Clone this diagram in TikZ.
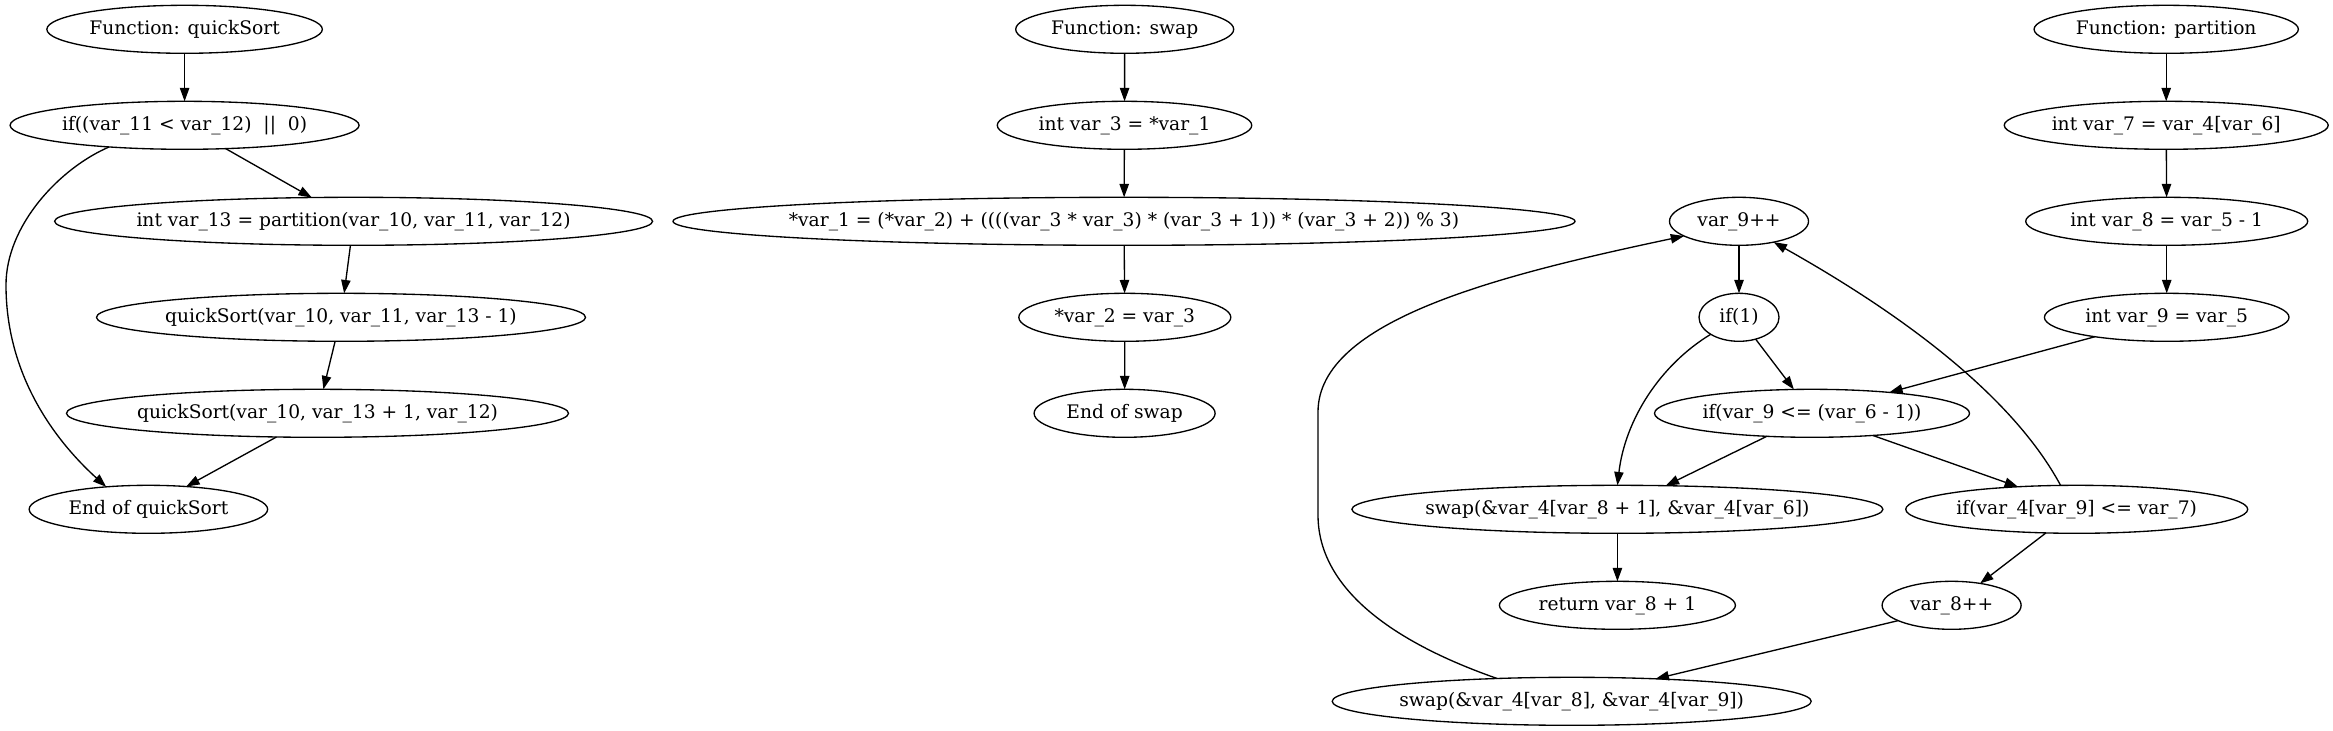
\documentclass[tikz,border=0pt]{standalone}
\usepackage{fontspec}
\setmainfont{DejaVu Serif}
\usetikzlibrary{arrows.meta,shapes.geometric}
\newcommand\gvt[1]{\makebox[0pt][c]{#1}}
\begin{document}
\begin{tikzpicture}[x=0.75pt,y=-0.75pt,
  gv/.style={draw, ellipse, inner sep=0pt, outer sep=0pt, minimum height=36pt, line width=1pt,
    font=\fontsize{14}{16}\selectfont},
  arr/.style={-{Triangle[length=10pt,width=7pt]}, line width=1pt}]
\fill[white] (0,0) rectangle (2333,731);
\useasboundingbox (0,0) rectangle (2333,731);
% quickSort
\node[gv, minimum width=275.5*0.75pt] (fqs) at (184.6,29.3) {\gvt{Function: quickSort}};
\node[gv, minimum width=349*0.75pt] (if1) at (184.6,125.3) {\gvt{if((var\_11 < var\_12)\ \ ||\ \ 0)}};
\node[gv, minimum width=598*0.75pt] (n13) at (353.6,221.3) {\gvt{int var\_13 = partition(var\_10, var\_11, var\_12)}};
\node[gv, minimum width=489*0.75pt] (qs1) at (341,317.3) {\gvt{quickSort(var\_10, var\_11, var\_13 - 1)}};
\node[gv, minimum width=502*0.75pt] (qs2) at (317.5,413.3) {\gvt{quickSort(var\_10, var\_13 + 1, var\_12)}};
\node[gv, minimum width=238.5*0.75pt] (endqs) at (148.4,509.3) {\gvt{End of quickSort}};
% swap
\node[gv, minimum width=218*0.75pt] (fsw) at (1124.7,29.3) {\gvt{Function: swap}};
\node[gv, minimum width=254.5*0.75pt] (v3) at (1124.5,125.3) {\gvt{int var\_3 = *var\_1}};
\node[gv, minimum width=902*0.75pt] (big) at (1124,221.3) {\gvt{*var\_1 = (*var\_2) + ((((var\_3 * var\_3) * (var\_3 + 1)) * (var\_3 + 2)) \% 3)}};
\node[gv, minimum width=212*0.75pt] (v2) at (1124.8,317.3) {\gvt{*var\_2 = var\_3}};
\node[gv, minimum width=181*0.75pt] (endsw) at (1124.6,413.3) {\gvt{End of swap}};
% partition
\node[gv, minimum width=264.3*0.75pt] (fpart) at (2166.2,29.3) {\gvt{Function: partition}};
\node[gv, minimum width=324*0.75pt] (v7) at (2166.2,125.3) {\gvt{int var\_7 = var\_4[var\_6]}};
\node[gv, minimum width=282*0.75pt] (v8) at (2166.7,221.3) {\gvt{int var\_8 = var\_5 - 1}};
\node[gv, minimum width=244.6*0.75pt] (v9) at (2166.7,317.3) {\gvt{int var\_9 = var\_5}};
\node[gv, minimum width=139*0.75pt] (v9pp) at (1739,221.3) {\gvt{var\_9++}};
\node[gv, minimum width=80*0.75pt] (if1n) at (1739,317.3) {\gvt{if(1)}};
\node[gv, minimum width=315*0.75pt] (ifle) at (1812,413.3) {\gvt{if(var\_9 <= (var\_6 - 1))}};
\node[gv, minimum width=531*0.75pt] (s81) at (1617.4,509.3) {\gvt{swap(\&var\_4[var\_8 + 1], \&var\_4[var\_6])}};
\node[gv, minimum width=342*0.75pt] (if4) at (2076.7,509.3) {\gvt{if(var\_4[var\_9] <= var\_7)}};
\node[gv, minimum width=236*0.75pt] (ret) at (1617.4,605.3) {\gvt{return var\_8 + 1}};
\node[gv, minimum width=139*0.75pt] (v8pp) at (1951.6,605.3) {\gvt{var\_8++}};
\node[gv, minimum width=479*0.75pt] (s89) at (1571.7,701.3) {\gvt{swap(\&var\_4[var\_8], \&var\_4[var\_9])}};
% quickSort edges
\draw[arr] (fqs) -- (if1);
\draw[arr] (if1) -- (n13);
\draw[arr] (n13) -- (qs1);
\draw[arr] (qs1) -- (qs2);
\draw[arr] (qs2.210) -- (endqs.31);
\draw[arr] (if1.196) .. controls (60,168) and (6,225) .. (6,285) .. controls (6,380) and (60,445) .. (endqs.152);
% swap edges
\draw[arr] (fsw) -- (v3);
\draw[arr] (v3) -- (big);
\draw[arr] (big) -- (v2);
\draw[arr] (v2) -- (endsw);
% partition edges
\draw[arr] (fpart) -- (v7);
\draw[arr] (v7) -- (v8);
\draw[arr] (v8) -- (v9);
\draw[arr] (v9) -- (ifle);
\draw[arr] (v9pp) -- (if1n);
\draw[arr] (if1n) -- (ifle);
\draw[arr] (if1n.211) .. controls (1660,365) and (1625,420) .. (s81.north);
\draw[arr] (ifle.207) -- (s81.26);
\draw[arr] (ifle.340) -- (if4.159);
\draw[arr] (s81) -- (ret);
\draw[arr] (if4.124) .. controls (2020,410) and (1930,330) .. (v9pp.329);
\draw[arr] (if4) -- (v8pp);
\draw[arr] (v8pp.196) -- (s89.15);
\draw[arr] (s89.163) .. controls (1430,655) and (1318,605) .. (1318,515) -- (1318,412) .. controls (1318,320) and (1500,275) .. (v9pp.195);
\end{tikzpicture}
\end{document}
